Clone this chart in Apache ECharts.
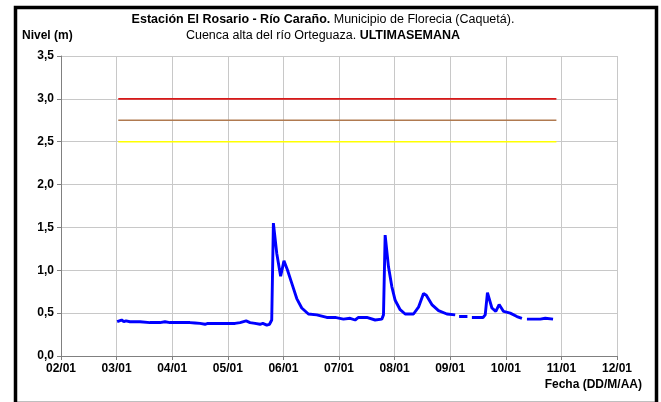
<!DOCTYPE html>
<html>
<head>
<meta charset="utf-8">
<script src="https://cdn.jsdelivr.net/npm/echarts@6/dist/echarts.min.js"></script>
<style>
html,body{margin:0;padding:0;background:#fff;}
#chart{width:661px;height:402px;}
</style>
</head>
<body>
<div id="chart"></div>
<script>
// x axis: month offset from 02/01 (0 = 02/01 ... 10 = 12/01)
var xLabels = ['02/01','03/01','04/01','05/01','06/01','07/01','08/01','09/01','10/01','11/01','12/01'];
var yTicks = [0, 0.5, 1.0, 1.5, 2.0, 2.5, 3.0, 3.5];

var fecha = [1.01,1.05,1.09,1.13,1.17,1.24,1.42,1.60,1.78,1.87,1.96,2.14,2.32,2.41,2.50,2.59,2.64,2.77,2.95,3.13,3.22,3.33,3.40,3.49,3.58,3.63,3.70,3.75,3.79,
  3.82,3.88,3.95,4.01,4.07,4.15,4.24,4.33,4.45,4.60,4.78,4.93,5.08,5.20,5.29,5.35,5.50,5.65,5.77,5.80,
  5.83,5.89,5.95,6.01,6.10,6.19,6.34,6.43,6.52,6.57,6.67,6.79,6.94,7.09,7.12,
  7.16,7.31,7.33,7.39,7.59,7.63,7.67,7.75,7.82,7.88,7.96,8.08,8.20,8.29,8.32,
  8.38,8.62,8.71,8.85];
var nivel = [0.40,0.41,0.42,0.40,0.41,0.40,0.40,0.39,0.39,0.40,0.39,0.39,0.39,0.385,0.38,0.37,0.38,0.38,0.38,0.38,0.39,0.41,0.39,0.38,0.37,0.38,0.36,0.37,0.42,
  1.55,1.20,0.93,1.11,1.01,0.85,0.67,0.56,0.49,0.48,0.45,0.45,0.43,0.44,0.42,0.45,0.45,0.42,0.43,0.48,
  1.41,1.04,0.81,0.65,0.54,0.49,0.49,0.57,0.73,0.71,0.60,0.53,0.49,0.48,null,
  0.46,0.46,null,0.45,0.45,0.48,0.74,0.56,0.52,0.60,0.52,0.50,0.46,0.44,null,
  0.43,0.43,0.44,0.43];

var umbrales = [3.0, 2.75, 2.5];
var umbralColores = ['#d81818', '#b07a50', '#ffff00'];
var umbralInicio = 1.03, umbralFin = 8.91;

var FONT = '"Liberation Sans", Arial, sans-serif';

var serie = fecha.map(function (f, i) { return [f, nivel[i]]; });

var series = [];
umbrales.forEach(function (u, i) {
  series.push({
    type: 'line', data: [[umbralInicio, u], [umbralFin, u]],
    symbol: 'none', silent: true,
    lineStyle: { color: umbralColores[i], width: 1.6 }
  });
});
series.push({
  type: 'line', data: serie, symbol: 'none', connectNulls: false,
  lineStyle: { color: '#0000ff', width: 2.9 }
});

var chart = echarts.init(document.getElementById('chart'), null, { renderer: 'canvas' });
chart.setOption({
  animation: false,
  backgroundColor: '#fff',
  grid: { left: 61, right: 44, top: 56, bottom: 46, containLabel: false },
  title: {
    left: 318, top: 7, textAlign: 'center',
    text: '{b|Estación El Rosario - Río Caraño.}{n| Municipio de Florecia (Caquetá).}\n{n|Cuenca alta del río Orteguaza. }{b|ULTIMASEMANA}',
    textStyle: {
      rich: {
        b: { fontFamily: FONT, fontWeight: 'bold', fontSize: 12.5, color: '#000', lineHeight: 16 },
        n: { fontFamily: FONT, fontWeight: 'normal', fontSize: 12.5, color: '#000', lineHeight: 16 }
      }
    }
  },
  xAxis: {
    type: 'value', min: 0, max: 10, interval: 1,
    axisLine: { show: true, lineStyle: { color: '#808080', width: 1 } },
    axisTick: { show: true, length: 4, lineStyle: { color: '#808080' } },
    axisLabel: {
      margin: 7, color: '#000', fontFamily: FONT, fontWeight: 'bold', fontSize: 12,
      formatter: function (v) { return xLabels[Math.round(v)] || ''; }
    },
    splitLine: { show: true, lineStyle: { color: '#c8c8c8', width: 1 } }
  },
  yAxis: {
    type: 'value', min: 0, max: 3.5, interval: 0.5,
    axisLine: { show: true, lineStyle: { color: '#808080', width: 1 } },
    axisTick: { show: true, length: 4, lineStyle: { color: '#808080' } },
    axisLabel: {
      margin: 7, color: '#000', fontFamily: FONT, fontWeight: 'bold', fontSize: 12,
      formatter: function (v) { return v.toFixed(1).replace('.', ','); }
    },
    splitLine: { show: true, lineStyle: { color: '#c8c8c8', width: 1 } }
  },
  graphic: [
    { type: 'rect', left: 13, top: 5, shape: { width: 641, height: 396 },
      style: { fill: null, stroke: '#000', lineWidth: 3.5 }, silent: true, z: 100 },
    { type: 'text', left: 22, top: 30,
      style: { text: 'Nivel (m)', font: 'bold 12px ' + FONT, fill: '#000' } },
    { type: 'text', right: 19, top: 379,
      style: { text: 'Fecha (DD/M/AA)', font: 'bold 12px ' + FONT, fill: '#000' } }
  ],
  series: series
});
</script>
</body>
</html>
